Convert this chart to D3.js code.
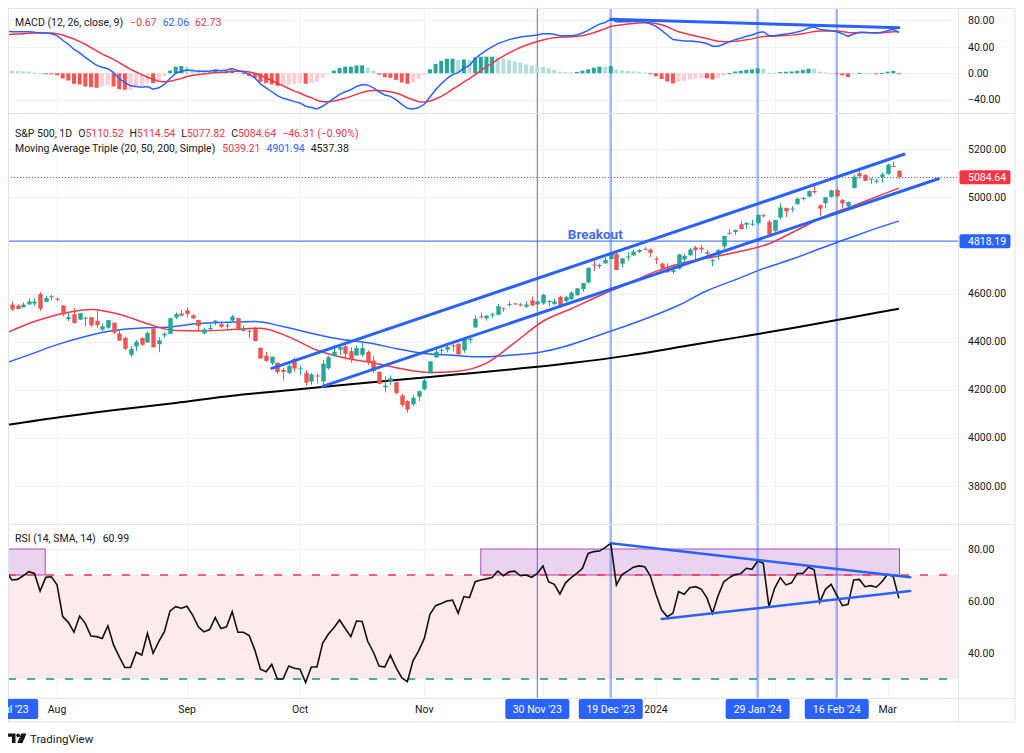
<!DOCTYPE html>
<html>
<head>
<meta charset="utf-8">
<script src="https://cdn.jsdelivr.net/npm/d3@7"></script>
<style>
  body { margin: 0; background: #fff; }
  svg text { font-family: Roboto, "Liberation Sans", sans-serif; }
</style>
</head>
<body>
<svg id="chart" width="1024" height="753"></svg>
<script>
// trading days on screen, 19 Jul 2023 .. 5 Mar 2024
const dates = [
  "2023-07-19","2023-07-20","2023-07-21","2023-07-24","2023-07-25","2023-07-26","2023-07-27","2023-07-28","2023-07-31",
  "2023-08-01","2023-08-02","2023-08-03","2023-08-04","2023-08-07","2023-08-08","2023-08-09","2023-08-10","2023-08-11","2023-08-14","2023-08-15","2023-08-16","2023-08-17","2023-08-18","2023-08-21","2023-08-22","2023-08-23","2023-08-24","2023-08-25","2023-08-28","2023-08-29","2023-08-30","2023-08-31",
  "2023-09-01","2023-09-05","2023-09-06","2023-09-07","2023-09-08","2023-09-11","2023-09-12","2023-09-13","2023-09-14","2023-09-15","2023-09-18","2023-09-19","2023-09-20","2023-09-21","2023-09-22","2023-09-25","2023-09-26","2023-09-27","2023-09-28","2023-09-29",
  "2023-10-02","2023-10-03","2023-10-04","2023-10-05","2023-10-06","2023-10-09","2023-10-10","2023-10-11","2023-10-12","2023-10-13","2023-10-16","2023-10-17","2023-10-18","2023-10-19","2023-10-20","2023-10-23","2023-10-24","2023-10-25","2023-10-26","2023-10-27","2023-10-30","2023-10-31",
  "2023-11-01","2023-11-02","2023-11-03","2023-11-06","2023-11-07","2023-11-08","2023-11-09","2023-11-10","2023-11-13","2023-11-14","2023-11-15","2023-11-16","2023-11-17","2023-11-20","2023-11-21","2023-11-22","2023-11-24","2023-11-27","2023-11-28","2023-11-29","2023-11-30",
  "2023-12-01","2023-12-04","2023-12-05","2023-12-06","2023-12-07","2023-12-08","2023-12-11","2023-12-12","2023-12-13","2023-12-14","2023-12-15","2023-12-18","2023-12-19","2023-12-20","2023-12-21","2023-12-22","2023-12-26","2023-12-27","2023-12-28","2023-12-29",
  "2024-01-02","2024-01-03","2024-01-04","2024-01-05","2024-01-08","2024-01-09","2024-01-10","2024-01-11","2024-01-12","2024-01-16","2024-01-17","2024-01-18","2024-01-19","2024-01-22","2024-01-23","2024-01-24","2024-01-25","2024-01-26","2024-01-29","2024-01-30","2024-01-31",
  "2024-02-01","2024-02-02","2024-02-05","2024-02-06","2024-02-07","2024-02-08","2024-02-09","2024-02-12","2024-02-13","2024-02-14","2024-02-15","2024-02-16","2024-02-20","2024-02-21","2024-02-22","2024-02-23","2024-02-26","2024-02-27","2024-02-28","2024-02-29",
  "2024-03-01","2024-03-04","2024-03-05"
];

const opens = [
  4563.9,4554.4,4550.2,4543.4,4555.2,4558.9,4598.3,4565.8,4584.8,
  4578.8,4550.9,4494.3,4514.0,4491.6,4498.0,4501.6,4487.2,4450.7,4458.1,4478.9,4433.8,4416.3,4344.9,4380.3,4415.3,4396.4,4455.2,4389.4,4426.0,4432.8,4500.3,4517.0,
  4530.6,4510.1,4490.4,4434.6,4451.3,4481.0,4473.3,4462.7,4487.8,4498.0,4445.1,4445.4,4452.8,4374.4,4341.7,4310.6,4312.9,4282.6,4269.7,4328.2,
  4284.5,4269.8,4233.8,4259.3,4234.8,4289.0,4339.8,4366.6,4380.9,4360.5,4342.4,4345.2,4357.4,4321.4,4273.9,4210.4,4235.8,4232.4,4176.0,4152.9,4139.4,4171.3,
  4201.3,4268.3,4334.2,4364.3,4366.2,4384.4,4391.4,4364.2,4406.7,4459.0,4505.3,4497.1,4509.6,4511.7,4538.8,4553.0,4555.8,4554.9,4545.6,4571.8,4554.9,
  4559.4,4564.4,4557.3,4586.2,4568.8,4576.2,4593.4,4618.3,4646.2,4721.0,4714.2,4725.6,4743.7,4764.7,4724.3,4753.9,4758.9,4773.5,4786.4,4782.9,
  4745.2,4725.1,4697.4,4690.6,4703.7,4741.9,4759.9,4792.1,4791.2,4772.4,4739.1,4760.1,4796.3,4853.4,4856.8,4888.6,4886.7,4888.9,4893.0,4925.9,4899.2,
  4861.1,4916.1,4957.2,4950.2,4973.1,4995.2,5004.2,5026.8,4967.9,4976.4,5003.1,5031.1,4989.3,4963.0,5038.8,5100.9,5093.0,5074.6,5067.2,5085.4,
  5098.5,5131.0,5110.52
];
const highs = [
  4578.4,4564.7,4555.0,4563.4,4580.6,4582.5,4607.1,4590.2,4594.2,
  4584.6,4550.9,4519.5,4540.3,4519.8,4503.3,4502.4,4527.4,4476.2,4490.3,4478.9,4450.0,4421.2,4381.8,4407.6,4418.6,4443.2,4458.3,4418.5,4439.6,4500.1,4521.7,4532.3,
  4541.3,4514.3,4490.4,4457.8,4473.5,4490.8,4487.1,4479.4,4512.0,4498.0,4466.4,4449.9,4461.0,4375.7,4357.4,4338.5,4313.0,4292.1,4317.3,4333.1,
  4300.6,4281.2,4268.5,4267.1,4324.1,4341.7,4385.5,4378.6,4385.9,4377.1,4383.3,4393.6,4364.2,4339.5,4276.6,4255.8,4259.4,4232.4,4183.6,4156.7,4177.5,4195.6,
  4245.6,4319.7,4373.6,4372.2,4386.3,4391.2,4393.4,4418.0,4421.8,4508.7,4521.2,4512.0,4520.1,4557.1,4542.1,4568.4,4560.3,4560.5,4568.1,4587.6,4569.9,
  4599.4,4572.4,4578.6,4590.7,4590.9,4609.2,4623.0,4643.9,4709.7,4738.6,4725.5,4749.5,4768.7,4778.0,4748.7,4772.9,4784.7,4785.4,4793.3,4788.4,
  4754.3,4729.3,4726.8,4721.5,4764.5,4765.5,4790.8,4798.5,4802.4,4782.3,4744.2,4785.8,4842.1,4868.4,4866.5,4903.7,4898.2,4906.7,4929.3,4931.1,4906.8,
  4907.0,4975.3,4957.2,4964.9,4999.9,5000.4,5030.1,5048.4,4971.3,5002.5,5032.7,5038.7,4993.7,4983.2,5094.4,5111.1,5097.7,5080.7,5077.4,5105.0,
  5140.3,5149.7,5114.54
];
const lows = [
  4557.5,4527.6,4535.8,4541.3,4552.4,4547.6,4528.6,4564.0,4573.1,
  4567.5,4505.8,4485.5,4474.5,4491.2,4464.4,4461.3,4457.9,4444.0,4453.4,4432.2,4403.6,4364.8,4335.3,4360.3,4382.8,4396.4,4375.6,4356.3,4415.0,4431.7,4493.6,4507.4,
  4501.4,4496.0,4442.4,4430.5,4448.4,4467.9,4456.8,4453.5,4478.7,4447.2,4442.1,4416.6,4401.4,4329.2,4316.5,4302.7,4266.0,4238.6,4264.4,4274.9,
  4260.2,4216.5,4220.5,4225.9,4219.6,4283.8,4339.6,4345.3,4325.4,4312.0,4342.4,4337.5,4303.8,4269.7,4223.0,4189.2,4219.4,4181.4,4127.9,4103.8,4132.9,4153.1,
  4197.7,4268.3,4334.2,4347.5,4355.4,4359.8,4343.9,4353.3,4393.8,4459.0,4495.3,4487.8,4499.7,4510.4,4525.5,4545.5,4552.8,4545.9,4540.5,4547.2,4537.2,
  4554.7,4546.7,4551.7,4546.5,4565.2,4574.1,4590.7,4608.1,4643.2,4694.3,4704.7,4725.6,4743.7,4697.8,4708.4,4736.8,4758.5,4768.9,4781.0,4752.0,
  4722.7,4699.7,4687.5,4682.1,4699.8,4730.4,4756.2,4739.6,4769.0,4747.1,4714.8,4740.6,4785.9,4844.1,4844.4,4865.9,4869.3,4881.5,4887.4,4916.3,4845.2,
  4853.5,4908.0,4918.1,4939.0,4970.0,4987.1,5000.3,5016.3,4920.3,4956.2,4999.4,4999.5,4955.0,4946.0,5038.8,5081.5,5068.9,5057.3,5058.4,5061.9,
  5094.5,5127.2,5077.82
];
const closes = [
  4565.7,4534.9,4536.3,4554.6,4567.5,4566.8,4537.4,4582.2,4589.0,
  4576.7,4513.4,4501.9,4478.0,4518.4,4499.4,4467.7,4468.8,4464.1,4489.7,4437.9,4404.3,4370.4,4369.7,4399.8,4387.6,4436.0,4376.3,4405.7,4433.3,4497.6,4514.9,4507.7,
  4515.8,4496.8,4465.5,4451.1,4457.5,4487.5,4461.9,4467.4,4505.1,4450.3,4453.5,4443.9,4402.2,4330.0,4320.1,4337.4,4273.5,4274.5,4299.7,4288.1,
  4288.4,4229.5,4263.8,4258.2,4308.5,4335.7,4358.2,4376.9,4349.6,4327.8,4373.6,4373.2,4314.6,4278.0,4224.2,4217.0,4247.7,4186.8,4137.2,4117.4,4166.8,4193.8,
  4237.9,4317.8,4358.3,4366.0,4378.4,4382.8,4347.4,4415.2,4411.6,4495.7,4502.9,4508.2,4514.0,4547.4,4538.2,4556.6,4559.3,4550.4,4554.9,4550.6,4567.8,
  4594.6,4569.8,4567.2,4549.3,4585.6,4604.4,4622.4,4643.7,4707.1,4719.6,4719.2,4740.6,4768.4,4698.4,4746.8,4754.6,4774.8,4781.6,4783.4,4769.8,
  4742.8,4704.8,4688.7,4697.2,4763.5,4756.5,4783.5,4780.2,4783.8,4766.0,4739.2,4780.9,4839.8,4850.4,4864.6,4868.6,4894.2,4891.0,4927.9,4925.0,4845.7,
  4906.2,4958.6,4942.8,4954.2,4995.1,4997.9,5026.6,5021.8,4953.2,5000.6,5029.7,5005.6,4975.5,4981.8,5087.0,5088.8,5069.5,5078.2,5069.8,5096.3,
  5137.1,5130.95,5084.64
];

// moving averages, read at every fifth bar
const sma20Bars = [0,5,10,15,20,25,30,35,40,45,50,55,60,65,70,75,80,85,90,95,100,105,110,115,120,125,130,135,140,145,150,155,158];
const sma20 = [4436.0,4483.8,4517.5,4534.2,4514.5,4474.6,4446.1,4444.7,4450.4,4456.2,4420.1,4364.6,4332.1,4311.5,4286.9,4272.1,4277.3,4310.7,4395.8,4485.0,4537.2,4591.1,4640.8,4692.5,4729.2,4751.2,4776.0,4807.6,4864.9,4922.3,4966.0,5012.0,5039.21];
const sma50Bars = [0,4,9,14,19,24,29,34,39,44,49,54,59,64,69,74,79,84,89,94,99,104,109,114,119,124,129,134,139,144,149,154,158];
const sma50 = [4311.7,4345.1,4387.6,4421.9,4446.5,4456.8,4461.5,4475.2,4480.6,4483.6,4463.0,4435.2,4410.9,4395.4,4371.9,4350.4,4343.5,4336.9,4343.7,4354.2,4380.9,4419.4,4460.1,4502.6,4551.5,4611.8,4657.3,4703.9,4742.8,4787.0,4829.6,4871.5,4901.94];
const sma200Bars = [0,10,20,30,40,50,60,70,80,90,100,110,120,130,140,150,158];
const sma200 = [4053,4088,4118,4145,4175,4198,4221,4243,4264,4286,4311,4342,4381,4420,4460,4503,4537.38];

const macdLine = [
  64,63,63,63,63,62,61,61,60,57,
  50,44,36,31,24,18,12,9,7,1,
  -8,-14,-19,-20,-21,-20,-24,-22,-17,-8,
  0,3,5,4,3,3,3,5,4,5,
  7,4,2,-2,-7,-16,-22,-28,-34,-38,
  -40,-43,-45,-50,-52,-54,-50,-44,-38,-32,
  -28,-25,-20,-17,-18,-22,-28,-33,-35,-40,
  -47,-53,-54,-52,-47,-36,-25,-16,-8,-2,
  1,8,12,22,29,35,40,45,48,51,
  53,55,56,57,58,60,60,59,57,57,
  57,58,61,65,70,74.5,77,81.8,78,78,
  78,78.5,78.5,77.5,75,71,65,58,51,50,
  49,49,48,47,45,41,41,44,48,51,
  53,56,58,61.5,63,57,57,58.5,59.5,60.5,
  62.5,65,68.5,70,66.5,65.5,64.5,63,60,56,
  59.5,62,62,61.5,61,62,64.5,66.5,62.06
];
const signalLine = [
  58,59,59.5,60,60.5,61,61,61,61,60,
  58,55,52,48,44,39,34,29,25,21,
  16,11,6,2,-2,-6,-9,-12,-13,-12,
  -10,-8,-5,-3,-2,-1,0,1,1,2,
  3,3,3,2,0,-3,-7,-11,-15,-19,
  -23,-27,-30,-34,-37,-41,-43,-43,-42,-40,
  -38,-35,-32,-29,-27,-26,-26,-27,-28,-30,
  -33,-37,-40,-43,-44,-42,-39,-35,-30,-24,
  -19,-13,-8,-2,4,10,15,21,26,31,
  35,39,42.5,45.5,48,50.5,52.5,54,54.5,55,
  55.5,56,57,59,61.5,64.5,67.5,71,72.5,73.5,
  74.5,75.5,76,76.5,76.5,75.5,73.5,70.5,66.5,63,
  60.5,58.5,56.5,54.5,52.6,50.4,48.6,47.7,47.8,48.4,
  49.3,50.7,52.1,54,55.8,56,56.2,56.7,57.2,57.8,
  58.7,60,61.6,63.3,63.9,64.2,64.3,64,63.2,61.8,
  61.3,61.4,61.5,61.5,61.4,61.5,62.1,63,62.73
];
const rsi = [
  71.3,68.1,68.3,69.7,71.3,70.6,63.8,69.1,69.3,66.2,
  54,51.8,48,54.2,51.4,46.5,46.3,45.6,50.5,43.1,
  38.6,34.4,34.4,40.3,39.2,47.6,39.9,44.4,48.2,56.2,
  57.8,57.2,58.0,54.6,50.1,48.1,49,53.6,49.4,50.1,
  55.9,48,48,46.7,41.2,33.8,32.8,35.6,30,30,
  35,34.1,33.8,28.6,34.6,34.6,43.7,47.2,49.7,52.7,
  49.4,46.3,52.3,52.1,44.4,40.3,35,34.6,39.2,34.4,
  30.5,29,37,40.8,45.6,54.9,58.2,59.0,60,60.3,
  55.3,61.7,61.3,67.4,68.1,68.5,69,71.5,69.7,71.2,
  71.5,69.7,70,69.1,70.6,73.5,67.4,66.4,62.7,67,
  69,70.6,72.6,78.3,79,79.2,80.5,82.2,66.2,70.2,
  71.5,73,73.5,73.2,69.7,62.6,56.5,54,55.3,63.6,
  62.6,65.1,65.5,64.6,61.3,55.3,62,67.4,69,70.2,
  70.5,72.6,72.2,75.4,74.5,57.8,64.9,69,66.2,67,
  70.6,70.6,73,72,59.5,64.5,66.4,62.3,58.2,58.7,
  68.1,68.3,65.5,65.9,65.3,67.4,70.3,69.4,60.99
];

// drawings: [bar, value] end points
const macdTrend = [[107, 81.8], [158, 69]];
const channelUpper = [[47, 4289], [158.9, 5180]];
const channelLower = [[56, 4213.7], [165, 5078]];
const rsiTrendUpper = [[107, 82.2], [160, 69.1]];
const rsiTrendLower = [[116, 53.1], [160, 63.8]];
const rsiBoxes = [[-3, 6.9], [84, 158.1]];
const breakoutLevel = 4818.19;
const lastPrice = 5084.64;
const markerDates = ["2023-07-19", "2023-11-30", "2023-12-19", "2024-01-29", "2024-02-16"];

const macdTicks = [80, 40, 0, -40];
const priceGrid = [3800, 4000, 4200, 4400, 4600, 4800, 5000, 5200];
const priceTicks = [3800, 4000, 4200, 4400, 4600, 5000, 5200];
const rsiTicks = [80, 60, 40];

if ([opens, highs, lows, closes, macdLine, signalLine, rsi].some(a => a.length !== dates.length)) {
  throw new Error("series length mismatch");
}

const svg = d3.select("#chart");
const L = 8, R = 958.5, AXR = 1015;
const panes = { macd: [8, 113], price: [114, 524], rsi: [525, 698] };

const x = d3.scaleLinear().domain([0, dates.length - 1]).range([6.2, 898.9]);
const yM = d3.scaleLinear().domain([-60.2, 98.9]).range([113, 8]);
const yP = d3.scaleLinear().domain([3641.3, 5343.3]).range([524, 115]);
const yR = d3.scaleLinear().domain([22.69, 89.23]).range([698, 525]);
const crisp = v => Math.round(v) + 0.5;

const UP = "#26a69a", DOWN = "#ef5350", BLUE = "#2962ff", RED = "#f23645", INK = "#131722";

svg.append("rect").attr("width", 1024).attr("height", 753).attr("fill", "#fff");

const defs = svg.append("defs");
Object.entries(panes).forEach(([k, p]) => {
  defs.append("clipPath").attr("id", "clip-" + k)
    .append("rect").attr("x", L).attr("y", p[0]).attr("width", R - L).attr("height", p[1] - p[0]);
});
defs.append("clipPath").attr("id", "clip-all")
  .append("rect").attr("x", L).attr("y", 8).attr("width", R - L).attr("height", 690);

// grid
const grid = svg.append("g").attr("stroke", "#f0f3fa").attr("stroke-width", 1);
const hline = (g, y) => g.append("line").attr("x1", L).attr("x2", R).attr("y1", crisp(y)).attr("y2", crisp(y));
macdTicks.forEach(v => hline(grid, yM(v)));
priceGrid.forEach(v => hline(grid, yP(v)));
rsiTicks.forEach(v => hline(grid, yR(v)));

const monthStarts = d3.range(1, dates.length).filter(i => dates[i].slice(0, 7) !== dates[i - 1].slice(0, 7));
monthStarts.forEach(i => {
  grid.append("line").attr("x1", crisp(x(i))).attr("x2", crisp(x(i))).attr("y1", 8).attr("y2", 698);
});

// RSI background band and boxes
const rsiG = svg.append("g").attr("clip-path", "url(#clip-rsi)");
rsiG.append("rect").attr("x", L).attr("width", R - L)
  .attr("y", yR(70)).attr("height", yR(30) - yR(70)).attr("fill", "#fdebec");
rsiBoxes.forEach(b => {
  rsiG.append("rect").attr("x", x(b[0])).attr("width", x(b[1]) - x(b[0]))
    .attr("y", yR(80)).attr("height", yR(70) - yR(80))
    .attr("fill", "#ead3ef").attr("stroke", "#ab47bc").attr("stroke-width", 1);
});
rsiG.append("line").attr("x1", L).attr("x2", R).attr("y1", yR(70)).attr("y2", yR(70))
  .attr("stroke", RED).attr("stroke-width", 1.5).attr("stroke-dasharray", "8,11");
rsiG.append("line").attr("x1", L).attr("x2", R).attr("y1", yR(30)).attr("y2", yR(30))
  .attr("stroke", "#089981").attr("stroke-width", 1.5).attr("stroke-dasharray", "8,11");

// vertical date markers
const markerIdx = markerDates.map(d => dates.indexOf(d));
const markG = svg.append("g").attr("clip-path", "url(#clip-all)");
markerIdx.forEach((i, k) => {
  const thin = markerDates[k] === "2023-11-30";
  markG.append("line").attr("x1", x(i)).attr("x2", x(i)).attr("y1", 8).attr("y2", 698)
    .attr("stroke", BLUE).attr("stroke-width", thin ? 1 : 2.5).attr("stroke-opacity", thin ? 0.9 : 0.45);
});

// MACD pane
const macdG = svg.append("g").attr("clip-path", "url(#clip-macd)");
const hist = macdLine.map((v, i) => v - signalLine[i]);
macdG.selectAll("rect.h").data(hist).join("rect")
  .attr("x", (d, i) => x(i) - 2).attr("width", 4)
  .attr("y", d => Math.min(yM(d), yM(0))).attr("height", d => Math.max(1, Math.abs(yM(d) - yM(0))))
  .attr("fill", (d, i) => {
    const p = i > 0 ? hist[i - 1] : d;
    if (d >= 0) return d >= p ? "#26a69a" : "#b2dfdb";
    return d < p ? "#ff5252" : "#ffcdd2";
  });
const lineM = d3.line().x((d, i) => x(i)).y(d => yM(d));
macdG.append("path").attr("d", lineM(signalLine)).attr("fill", "none").attr("stroke", RED).attr("stroke-width", 1.5);
macdG.append("path").attr("d", lineM(macdLine)).attr("fill", "none").attr("stroke", BLUE).attr("stroke-width", 1.5);
macdG.append("line").attr("x1", x(macdTrend[0][0])).attr("y1", yM(macdTrend[0][1]))
  .attr("x2", x(macdTrend[1][0])).attr("y2", yM(macdTrend[1][1]))
  .attr("stroke", BLUE).attr("stroke-width", 3).attr("stroke-linecap", "round");

// price pane
const priceG = svg.append("g").attr("clip-path", "url(#clip-price)");
priceG.append("line").attr("x1", L).attr("x2", R).attr("y1", yP(breakoutLevel)).attr("y2", yP(breakoutLevel))
  .attr("stroke", BLUE).attr("stroke-opacity", 0.8).attr("stroke-width", 1.2);
priceG.append("line").attr("x1", L).attr("x2", R).attr("y1", crisp(yP(lastPrice))).attr("y2", crisp(yP(lastPrice)))
  .attr("stroke", RED).attr("stroke-width", 1).attr("stroke-dasharray", "1,2");

const maLine = (bars) => d3.line().x((d, i) => x(bars[i])).y(d => yP(d)).curve(d3.curveMonotoneX);
priceG.append("path").attr("d", maLine(sma200Bars)(sma200)).attr("fill", "none").attr("stroke", "#000").attr("stroke-width", 2);
priceG.append("path").attr("d", maLine(sma50Bars)(sma50)).attr("fill", "none").attr("stroke", BLUE).attr("stroke-width", 1.5);
priceG.append("path").attr("d", maLine(sma20Bars)(sma20)).attr("fill", "none").attr("stroke", RED).attr("stroke-width", 1.5);

const candles = priceG.selectAll("g.c").data(closes).join("g")
  .attr("fill", (c, i) => c >= opens[i] ? UP : DOWN)
  .attr("stroke", (c, i) => c >= opens[i] ? UP : DOWN);
candles.append("line")
  .attr("x1", (c, i) => crisp(x(i)) ).attr("x2", (c, i) => crisp(x(i)))
  .attr("y1", (c, i) => yP(highs[i])).attr("y2", (c, i) => yP(lows[i])).attr("stroke-width", 1);
candles.append("rect").attr("stroke", "none")
  .attr("x", (c, i) => crisp(x(i)) - 2.2).attr("width", 4.4)
  .attr("y", (c, i) => yP(Math.max(c, opens[i])))
  .attr("height", (c, i) => Math.max(1, Math.abs(yP(c) - yP(opens[i]))));

[channelUpper, channelLower].forEach(t => {
  priceG.append("line").attr("x1", x(t[0][0])).attr("y1", yP(t[0][1]))
    .attr("x2", x(t[1][0])).attr("y2", yP(t[1][1]))
    .attr("stroke", BLUE).attr("stroke-width", 3).attr("stroke-linecap", "round");
});
priceG.append("text").attr("x", x(99.4)).attr("y", yP(4827))
  .attr("font-size", 13.5).attr("font-weight", "bold").attr("fill", "#3d6cf4").text("Breakout");

// RSI line and trend lines
const rsiLineG = svg.append("g").attr("clip-path", "url(#clip-rsi)");
rsiLineG.append("path").attr("d", d3.line().x((d, i) => x(i)).y(d => yR(d))(rsi))
  .attr("fill", "none").attr("stroke", "#111").attr("stroke-width", 1.6);
[rsiTrendUpper, rsiTrendLower].forEach(t => {
  rsiLineG.append("line").attr("x1", x(t[0][0])).attr("y1", yR(t[0][1]))
    .attr("x2", x(t[1][0])).attr("y2", yR(t[1][1]))
    .attr("stroke", BLUE).attr("stroke-width", 2.5).attr("stroke-linecap", "round");
});

// frame and separators
const frame = svg.append("g").attr("stroke", "#e0e3eb").attr("fill", "none");
frame.append("rect").attr("x", 8.5).attr("y", 8.5).attr("width", AXR - 8.5).attr("height", 722 - 8.5);
[113.5, 524.5, 698.5].forEach(y => frame.append("line").attr("x1", 8).attr("x2", AXR).attr("y1", y).attr("y2", y));
frame.append("line").attr("x1", R).attr("x2", R).attr("y1", 8).attr("y2", 722);

// right axis labels
const axisG = svg.append("g").attr("font-size", 10.5).attr("fill", INK);
const fmt = d3.format(".2f");
const axisLabel = (v, y) => axisG.append("text").attr("x", 968).attr("y", y).attr("dy", "0.35em")
  .text(fmt(v).replace("-", "\u2212"));
macdTicks.forEach(v => axisLabel(v, yM(v)));
priceTicks.forEach(v => axisLabel(v, yP(v)));
rsiTicks.forEach(v => axisLabel(v, yR(v)));

const priceTag = (v, color) => {
  const y = yP(v);
  svg.append("rect").attr("x", 959.5).attr("y", y - 7).attr("width", 51).attr("height", 14).attr("rx", 2).attr("fill", color);
  svg.append("text").attr("x", 968).attr("y", y).attr("dy", "0.35em").attr("font-size", 10.5)
    .attr("fill", "#fff").text(fmt(v));
};
priceTag(lastPrice, RED);
priceTag(breakoutLevel, BLUE);

// time axis
const fmtMonth = d3.timeFormat("%b");
const parse = d3.timeParse("%Y-%m-%d");
const fmtMarker = d3.timeFormat("%-d %b '%y");
const timeG = svg.append("g").attr("font-size", 10.5).attr("fill", INK).attr("text-anchor", "middle");
monthStarts.forEach(i => {
  const near = markerIdx.some(m => Math.abs(x(m) - x(i)) < 40);
  if (near) return;
  const d = parse(dates[i]);
  timeG.append("text").attr("x", x(i)).attr("y", 713)
    .text(d.getMonth() === 0 ? d.getFullYear() : fmtMonth(d));
});
const markG2 = svg.append("g");
markG2.append("clipPath").attr("id", "clip-time").append("rect").attr("x", L).attr("y", 698).attr("width", R - L).attr("height", 24);
const tagG = markG2.append("g").attr("clip-path", "url(#clip-time)");
markerIdx.forEach(i => {
  const label = fmtMarker(parse(dates[i]));
  tagG.append("rect").attr("x", x(i) - 32).attr("y", 699).attr("width", 64).attr("height", 20).attr("rx", 2).attr("fill", BLUE);
  tagG.append("text").attr("x", x(i)).attr("y", 713).attr("text-anchor", "middle")
    .attr("font-size", 10.5).attr("fill", "#fff").text(label);
});

// legends
function legend(y, parts) {
  const t = svg.append("text").attr("x", 15).attr("y", y).attr("font-size", 10.5).attr("fill", INK);
  parts.forEach(p => t.append("tspan").attr("fill", p[1] || INK).attr("dx", p[2] || 0).text(p[0]));
}
legend(26, [["MACD (12, 26, close, 9)"], ["\u22120.67", RED, 7], ["62.06", BLUE, 6], ["62.73", RED, 6]]);
legend(137, [["S&P 500, 1D"], ["O", INK, 6], ["5110.52", RED], ["H", INK, 6], ["5114.54", RED],
  ["L", INK, 6], ["5077.82", RED], ["C", INK, 6], ["5084.64", RED], ["\u221246.31 (\u22120.90%)", RED, 6]]);
legend(152, [["Moving Average Triple (20, 50, 200, Simple)"], ["5039.21", RED, 7], ["4901.94", BLUE, 6], ["4537.38", INK, 6]]);
legend(542, [["RSI (14, SMA, 14)"], ["60.99", INK, 7]]);

// TradingView mark
const logo = svg.append("g").attr("fill", INK);
logo.append("path").attr("d", "M8 733.5h7.5v9.5h-3.6v-6.2H8z");
logo.append("circle").attr("cx", 18.2).attr("cy", 735.3).attr("r", 1.9);
logo.append("path").attr("d", "M21.3 733.5h5.2l-4 9.5h-5.2z");
svg.append("text").attr("x", 30).attr("y", 742.5).attr("font-size", 11.5).attr("fill", INK).text("TradingView");
</script>
</body>
</html>
